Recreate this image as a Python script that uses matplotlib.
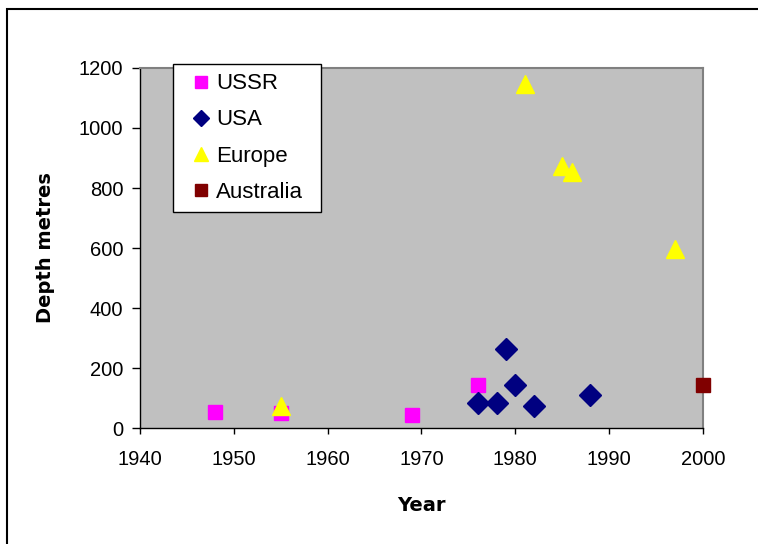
import matplotlib
matplotlib.use("Agg")
import matplotlib.pyplot as plt
from matplotlib.patches import Rectangle

plt.rcParams['font.family'] = ['Liberation Sans', 'DejaVu Sans']

ussr_year = [1948, 1955, 1969, 1976]
ussr_depth = [52, 50, 44, 145]
usa_year = [1976, 1978, 1979, 1980, 1982, 1988]
usa_depth = [85, 84, 265, 142, 75, 110]
europe_year = [1955, 1981, 1985, 1986, 1997]
europe_depth = [72, 1148, 872, 852, 595]
aus_year = [2000]
aus_depth = [145]

fig = plt.figure(figsize=(7.58, 5.44), dpi=100)
fig.patch.set_facecolor('white')
fig.patches.append(Rectangle((7/758, -0.1), 1.2, (544-9)/544 + 0.1, transform=fig.transFigure,
                             fill=False, edgecolor='black', linewidth=1.5, zorder=0))

ax = fig.add_axes([140/758, (544-428)/544, (703-140)/758, (428-68)/544])
ax.set_facecolor('#C0C0C0')

ax.plot(ussr_year, ussr_depth, linestyle='none', marker='s', ms=9.5, color='#FF00FF', label='USSR', zorder=3)
ax.plot(usa_year, usa_depth, linestyle='none', marker='D', ms=11, color='#000080', label='USA', zorder=3)
ax.plot(europe_year, europe_depth, linestyle='none', marker='^', ms=13.5, color='#FFFF00', label='Europe', zorder=4)
ax.plot(aus_year, aus_depth, linestyle='none', marker='s', ms=9.5, color='#800000', label='Australia',
        zorder=5, clip_on=False)

ax.set_xlim(1940, 2000)
ax.set_ylim(0, 1200)
ax.set_xticks(range(1940, 2001, 10))
ax.set_yticks(range(0, 1201, 200))
ax.tick_params(direction='out', labelsize=14.5, colors='black', width=1)
ax.tick_params(axis='x', length=4, pad=12)
ax.tick_params(axis='y', length=6, pad=6)

for s in ['left', 'bottom']:
    ax.spines[s].set_color('black')
    ax.spines[s].set_linewidth(1)
for s in ['top', 'right']:
    ax.spines[s].set_color('#808080')
    ax.spines[s].set_linewidth(1.5)

ax.set_xlabel('Year', fontsize=14, fontweight='bold', labelpad=19, family='DejaVu Sans')
ax.set_ylabel('Depth metres', fontsize=14, fontweight='bold', labelpad=17, family='DejaVu Sans')

leg = ax.legend(loc='upper left', bbox_to_anchor=(33/563, 0.5, 148/563, 0.51), mode='expand',
                frameon=True, fancybox=False,
                fontsize=16, handlelength=1.7, handletextpad=-0.15,
                borderpad=0.4, labelspacing=0.68, borderaxespad=0)
for h, size in zip(leg.legend_handles, [8.4, 8.5, 10.5, 8.4]):
    h.set_markersize(size)
leg.get_frame().set_edgecolor('black')
leg.get_frame().set_linewidth(1)
leg.get_frame().set_facecolor('white')
leg.get_frame().set_alpha(1)

fig.savefig('out.png', dpi=100)
